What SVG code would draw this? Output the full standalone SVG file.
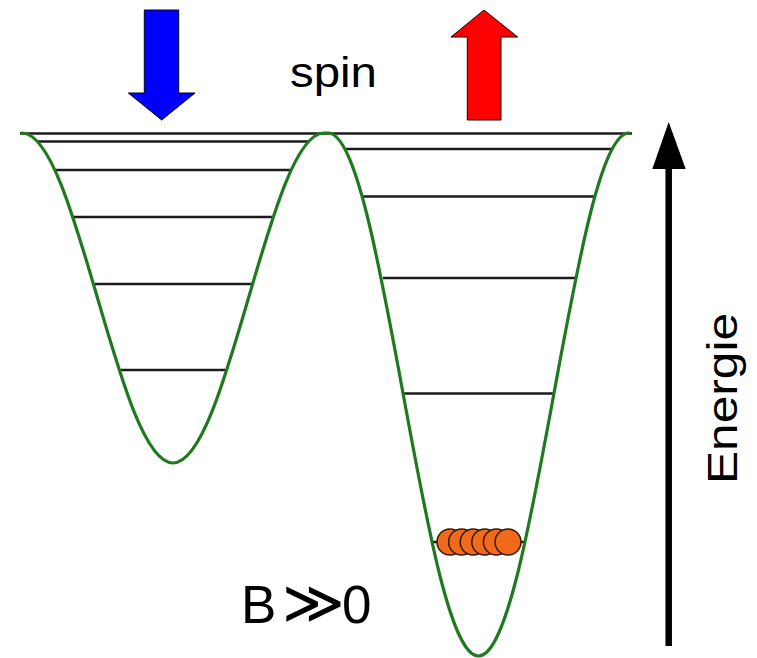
<svg xmlns="http://www.w3.org/2000/svg" width="757" height="658" viewBox="0 0 757 658">
<style>
.lvl{stroke:#1c1c1c;stroke-width:2.6;fill:none}
.well{stroke:#1f7a1f;stroke-width:3.2;fill:none;stroke-linecap:round;stroke-linejoin:round}
.ball{fill:#f06a1c;stroke:#3a1800;stroke-width:1.5}
.txt{font-family:"Liberation Sans",Arial,"DejaVu Sans",sans-serif;fill:#000}
</style>
<rect width="757" height="658" fill="#fff"/>
<g id="levels-left">
<line class="lvl" x1="20" y1="133.5" x2="632" y2="133.5"/>
<line class="lvl" x1="37" y1="141.5" x2="309" y2="141.5"/>
<line class="lvl" x1="55" y1="170" x2="291" y2="170"/>
<line class="lvl" x1="74" y1="217" x2="272" y2="217"/>
<line class="lvl" x1="95" y1="284" x2="252" y2="284"/>
<line class="lvl" x1="121" y1="370" x2="226" y2="370"/>
</g>
<g id="levels-right">
<line class="lvl" x1="345" y1="149" x2="613" y2="149"/>
<line class="lvl" x1="362" y1="196.5" x2="595" y2="196.5"/>
<line class="lvl" x1="383" y1="278" x2="575" y2="278"/>
<line class="lvl" x1="404" y1="393.5" x2="554" y2="393.5"/>
<line class="lvl" x1="433" y1="542" x2="525" y2="542"/>
</g>
<g id="potential">
<path class="well" d="M22,133 C49.33,133 72.88,213.47 97.5,298 C122.12,382.53 145.68,463 173,463 C200.32,463 223.88,382.53 248.5,298 C273.12,213.47 296.67,133 324,133 L328,133 C355.23,133 378.71,260.53 403.25,394.5 C427.79,528.47 451.27,656 478.5,656 C505.73,656 529.21,528.47 553.75,394.5 C578.29,260.53 601.77,133 629,133"/>
</g>
<g id="particles">
<circle class="ball" cx="450" cy="542" r="13"/>
<circle class="ball" cx="461.6" cy="542" r="13"/>
<circle class="ball" cx="473.2" cy="542" r="13"/>
<circle class="ball" cx="484.8" cy="542" r="13"/>
<circle class="ball" cx="496.4" cy="542" r="13"/>
<circle class="ball" cx="508" cy="542" r="13"/>
</g>
<g id="spin-down">
<polygon points="144.3,10 178.7,10 178.7,93 195,93 161.7,120 128.3,93 144.3,93" fill="#0000ff" stroke="#000020" stroke-width="1"/>
</g>
<g id="spin-up">
<polygon points="484,10 517.7,37 501,37 501,120 467.3,120 467.3,37 451,37" fill="#ff0000" stroke="#200000" stroke-width="1"/>
</g>
<g id="label-spin">
<text class="txt" x="290" y="87" font-size="42" textLength="87" lengthAdjust="spacingAndGlyphs">spin</text>
</g>
<g id="label-field">
<text class="txt" y="623" font-size="53"><tspan x="241">B</tspan><tspan x="282" font-size="60">≫</tspan><tspan x="342">0</tspan></text>
</g>
<g id="connectors">
<line x1="668.7" y1="160" x2="668.7" y2="646" stroke="#000" stroke-width="6.5"/>
<polygon points="668.7,122 685.7,169 652.3,169" fill="#000"/>
</g>
<g id="label-energy">
<text class="txt" transform="translate(737,484) rotate(-90)" x="0" y="0" font-size="42" textLength="171" lengthAdjust="spacingAndGlyphs">Energie</text>
</g>
</svg>
